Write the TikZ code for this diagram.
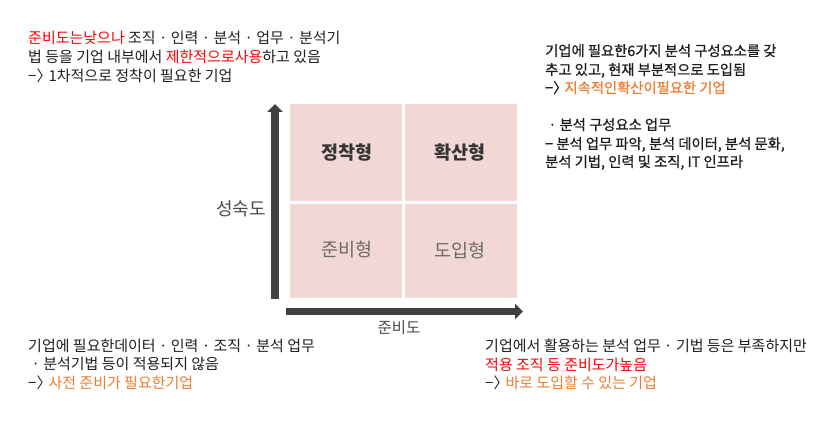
\documentclass[tikz,border=0pt]{standalone}
\usepackage{fontspec}
\setmainfont{Noto Sans CJK KR}
\newfontfamily\krbold[FakeBold=0.8]{Noto Sans CJK KR}
\usetikzlibrary{arrows.meta}
\definecolor{txt}{HTML}{1E1E1E}
\definecolor{myred}{HTML}{FF0000}
\definecolor{myorange}{HTML}{ED7D31}
\definecolor{boxfill}{HTML}{F1D8D4}
\definecolor{axisc}{HTML}{404040}
\definecolor{lowtxt}{HTML}{6A6A6A}
\newcommand{\arr}{−〉\kern-0.2em}
\tikzset{
  line/.style={anchor=base west, inner sep=0pt, font=\fontsize{15}{19}\selectfont, text=txt},
  rline/.style={anchor=base west, inner sep=0pt, font=\krbold\fontsize{14.3}{19}\selectfont, text=txt},
  quad/.style={fill=boxfill, draw=none},
  qlabel/.style={font=\fontsize{18.5}{20}\selectfont\bfseries, text=txt!90},
  qlabellow/.style={font=\fontsize{18.5}{20}\selectfont, text=lowtxt},
  axis/.style={draw=axisc, line width=7.5pt, -{Triangle[length=8pt,width=15pt]}},
  axlabel/.style={font=\fontsize{15.5}{18}\selectfont, text=txt!80}
}
\begin{document}
\begin{tikzpicture}[x=1pt,y=-1pt]
\useasboundingbox (0,0) rectangle (828,425);
% quadrants
\fill[quad] (290,104) rectangle (402,201);
\fill[quad] (405,104) rectangle (517,201);
\fill[quad] (290,204) rectangle (402,298);
\fill[quad] (405,204) rectangle (517,298);
\node[qlabel] (q1) at (347,153) {정착형};
\node[qlabel] (q2) at (460,153) {확산형};
\node[qlabellow] (q3) at (347,250) {준비형};
\node[qlabellow] (q4) at (460,250) {도입형};
% axes
\coordinate (vy0) at (275,299);
\coordinate (vy1) at (275,104);
\coordinate (hx0) at (286,311.5);
\coordinate (hx1) at (523,311.5);
\draw[axis] (vy0) -- (vy1);
\draw[axis] (hx0) -- (hx1);
\node[axlabel, font=\fontsize{18}{20}\selectfont] (ylab) at (241,209) {성숙도};
\node[axlabel] (xlab) at (399,328) {준비도};
% top left
\node[line] (tl1) at (28,44) {\textcolor{myred}{준비도는낮으나} 조직 · 인력 · 분석 · 업무 · 분석기};
\node[line] (tl2) at (28,63) {법 등을 기업 내부에서 \textcolor{myred}{제한적으로사용}하고 있음};
\node[line] (tl3) at (28,82) {\arr 1차적으로 정착이 필요한 기업};
% top right
\node[rline] (tr1) at (545,56) {기업에 필요한6가지 분석 구성요소를 갖};
\node[rline] (tr2) at (545,75) {추고 있고, 현재 부분적으로 도입됨};
\node[rline] (tr3) at (545,93) {\arr \textcolor{myorange}{지속적인확산이필요한 기업}};
\node[rline] (tr4) at (545,130) {\ · 분석 구성요소 업무};
\node[rline] (tr5) at (545,149) {− 분석 업무 파악, 분석 데이터, 분석 문화,};
\node[rline] (tr6) at (545,167) {분석 기법, 인력 및 조직, IT 인프라};
% bottom left
\node[line] (bl1) at (28,351) {기업에 필요한데이터 · 인력 · 조직 · 분석 업무};
\node[line] (bl2) at (28,369) {\ · 분석기법 등이 적용되지 않음};
\node[line] (bl3) at (28,388) {\arr \textcolor{myorange}{사전 준비가 필요한기업}};
% bottom right
\node[line] (br1) at (485,351) {기업에서 활용하는 분석 업무 · 기법 등은 부족하지만};
\node[line] (br2) at (485,370) {\textcolor{myred}{적용 조직 등 준비도가높음}};
\node[line] (br3) at (485,388) {\arr \textcolor{myorange}{바로 도입할 수 있는 기업}};
\end{tikzpicture}
\end{document}
